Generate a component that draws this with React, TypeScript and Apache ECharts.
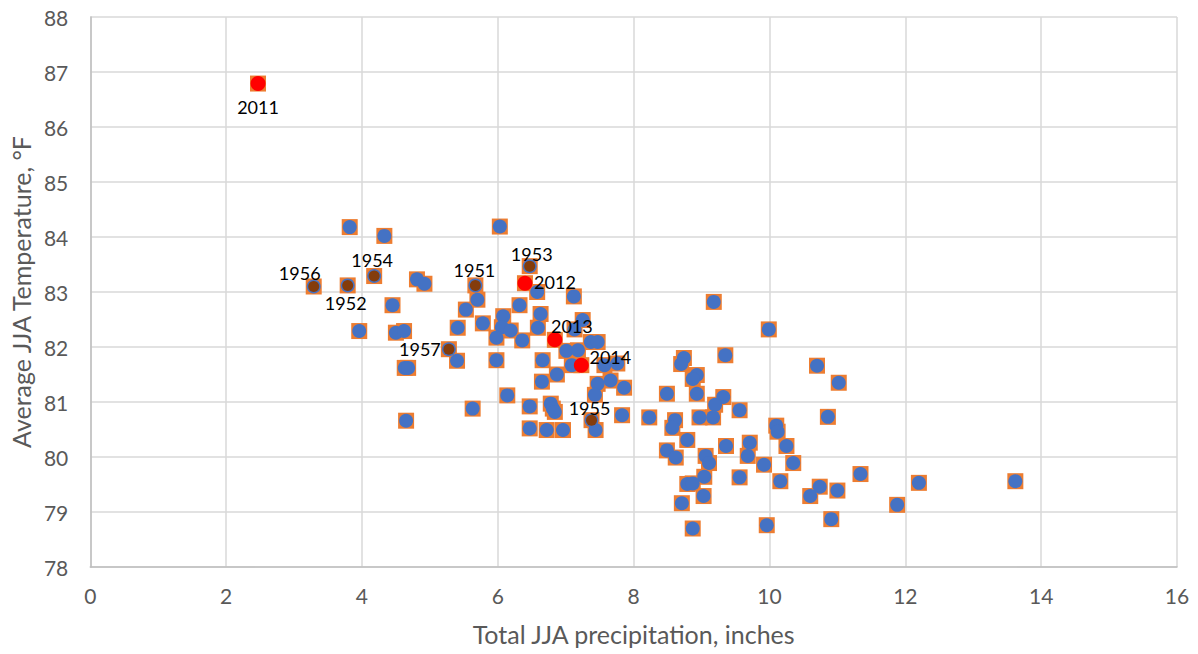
import React, { useEffect, useRef } from "react";
import * as echarts from "echarts";

// Total JJA precipitation (inches) and average JJA temperature (°F), ordinary years
const precip = [
  3.82, 4.33, 6.03, 4.81, 4.92, 4.45, 3.96, 4.50, 4.62, 5.40,
  4.63, 4.68, 4.65, 5.63, 5.53, 5.70, 5.41, 5.78, 6.58, 7.12,
  6.32, 6.08, 6.63, 7.25, 6.06, 6.19, 6.59, 5.98, 6.36, 7.13,
  7.37, 7.47, 7.01, 7.18, 6.66, 5.98, 7.09, 7.57, 7.76, 6.87,
  6.65, 7.47, 7.66, 7.86, 7.43, 6.14, 6.47, 6.78, 6.81, 6.84,
  7.83, 8.23, 6.47, 6.72, 6.96, 7.44, 9.18, 9.99, 9.35, 10.70,
  11.02, 8.74, 8.70, 8.93, 8.87, 8.49, 8.93, 9.32, 9.20, 9.56,
  9.17, 8.97, 8.61, 8.57, 10.86, 10.10, 10.12, 8.79, 8.49, 8.62,
  9.06, 9.11, 9.36, 9.71, 9.68, 10.25, 9.92, 10.35, 9.04, 8.79,
  8.87, 9.56, 10.16, 9.03, 8.71, 10.60, 10.74, 11.00, 11.34, 8.87,
  9.96, 10.91, 12.20, 13.62, 11.88,
];
const temp = [
  84.18, 84.02, 84.19, 83.23, 83.15, 82.76, 82.29, 82.26, 82.29, 81.75,
  81.62, 81.62, 80.66, 80.88, 82.68, 82.86, 82.35, 82.43, 83.00, 82.92,
  82.76, 82.56, 82.60, 82.49, 82.36, 82.30, 82.35, 82.17, 82.12, 82.32,
  82.09, 82.09, 81.93, 81.94, 81.76, 81.76, 81.67, 81.67, 81.70, 81.50,
  81.37, 81.33, 81.39, 81.26, 81.13, 81.12, 80.92, 80.97, 80.88, 80.82,
  80.76, 80.72, 80.52, 80.49, 80.49, 80.49, 82.82, 82.32, 81.85, 81.66,
  81.35, 81.80, 81.69, 81.49, 81.42, 81.15, 81.15, 81.09, 80.95, 80.85,
  80.72, 80.72, 80.67, 80.53, 80.73, 80.57, 80.46, 80.31, 80.12, 79.99,
  80.02, 79.89, 80.20, 80.26, 80.02, 80.20, 79.86, 79.89, 79.64, 79.51,
  79.52, 79.63, 79.56, 79.29, 79.16, 79.29, 79.46, 79.39, 79.69, 78.70,
  78.76, 78.87, 79.53, 79.56, 79.13,
];

// 1950s drought years
const earlyYears = ["1951", "1952", "1953", "1954", "1955", "1956", "1957"];
const earlyPrecip = [5.67, 3.79, 6.47, 4.18, 7.38, 3.29, 5.28];
const earlyTemp = [83.12, 83.12, 83.47, 83.29, 80.67, 83.10, 81.96];

// Recent years
const recentYears = ["2011", "2012", "2013", "2014"];
const recentPrecip = [2.47, 6.40, 6.84, 7.23];
const recentTemp = [86.79, 83.16, 82.13, 81.67];

// Axis ranges
const xMin = 0, xMax = 16, xStep = 2;
const yMin = 78, yMax = 88, yStep = 1;

// Label placement (pixel offset of the year label from its marker)
const labelOffsets: Record<string, [number, number]> = {
  "1951": [-1, -15],
  "1952": [-2, 18],
  "1953": [2, -12],
  "1954": [-2, -16],
  "1955": [-2, -12],
  "1956": [-14, -14],
  "1957": [-29, 0],
  "2011": [0, 23],
  "2012": [30, -1],
  "2013": [17, -14],
  "2014": [29, -8],
};

const FONT = "Lato";

export default function App() {
  const ref = useRef<HTMLDivElement>(null);
  useEffect(() => {
    if (!ref.current) return;
    const chart = echarts.init(ref.current, undefined, { renderer: "svg" });

    const allPts = [
      ...precip.map((p, i) => [p, temp[i]]),
      ...earlyPrecip.map((p, i) => [p, earlyTemp[i]]),
      ...recentPrecip.map((p, i) => [p, recentTemp[i]]),
    ];
    const bluePts = [
      ...precip.map((p, i) => [p, temp[i]]),
      ...earlyPrecip.map((p, i) => [p, earlyTemp[i]]),
    ];
    const labelStyle = (yr: string) => ({
      show: true,
      position: "inside",
      offset: labelOffsets[yr],
      formatter: yr,
      color: "#000000",
      fontFamily: FONT,
      fontSize: 18,
    });
    const earlyData = earlyPrecip.map((p, i) => ({
      name: earlyYears[i],
      value: [p, earlyTemp[i]],
      label: labelStyle(earlyYears[i]),
    }));
    const recentData = recentPrecip.map((p, i) => ({
      name: recentYears[i],
      value: [p, recentTemp[i]],
      label: labelStyle(recentYears[i]),
    }));

    chart.setOption({
      animation: false,
      backgroundColor: "#ffffff",
      grid: { left: 89, right: 21, top: 17, bottom: 87, containLabel: false },
      xAxis: {
        type: "value",
        min: xMin,
        max: xMax,
        interval: xStep,
        name: "Total JJA precipitation, inches",
        nameLocation: "middle",
        nameGap: 54,
        nameTextStyle: { color: "#595959", fontFamily: FONT, fontSize: 25 },
        axisLine: { show: true, lineStyle: { color: "#bfbfbf", width: 1.5 } },
        axisTick: { show: false },
        axisLabel: { color: "#595959", fontFamily: FONT, fontSize: 21, margin: 18 },
        splitLine: { show: true, lineStyle: { color: "#d9d9d9", width: 1.5 } },
      },
      yAxis: {
        type: "value",
        min: yMin,
        max: yMax,
        interval: yStep,
        name: "Average JJA Temperature, °F",
        nameLocation: "middle",
        nameGap: 57,
        nameTextStyle: { color: "#595959", fontFamily: FONT, fontSize: 25 },
        axisLine: { show: true, lineStyle: { color: "#bfbfbf", width: 1.5 } },
        axisTick: { show: false },
        axisLabel: { color: "#595959", fontFamily: FONT, fontSize: 21, margin: 22 },
        splitLine: { show: true, lineStyle: { color: "#d9d9d9", width: 1.5 } },
      },
      series: [
        {
          type: "scatter",
          data: allPts,
          symbol: "rect",
          symbolSize: 16,
          itemStyle: { color: "#ED7D31", opacity: 1 },
          silent: true,
          z: 1,
        },
        {
          type: "scatter",
          data: bluePts,
          symbol: "circle",
          symbolSize: 14,
          itemStyle: { color: "#4472C4", opacity: 1 },
          silent: true,
          z: 2,
        },
        {
          type: "scatter",
          data: earlyData,
          symbol: "circle",
          symbolSize: 11,
          itemStyle: { color: "#843C0C", opacity: 1 },
          silent: true,
          z: 3,
        },
        {
          type: "scatter",
          data: recentData,
          symbol: "circle",
          symbolSize: 15,
          itemStyle: { color: "#FF0000", opacity: 1 },
          silent: true,
          z: 4,
        },
      ],
    });
    return () => chart.dispose();
  }, []);

  return (
    <div
      ref={ref}
      style={{ position: "fixed", left: 0, top: 0, width: 1198, height: 654, background: "#fff" }}
    />
  );
}
